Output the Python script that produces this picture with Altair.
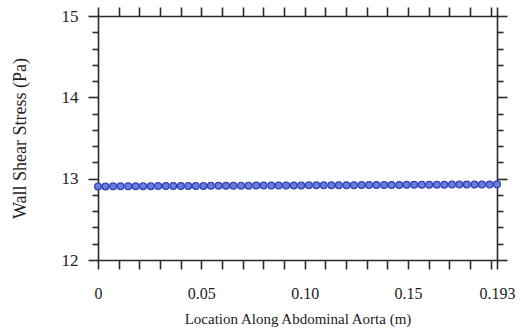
import altair as alt
import pandas as pd

# ---- data ----
location_m = [
    0.0000, 0.0036, 0.0073, 0.0109, 0.0146, 0.0182, 0.0218, 0.0255, 0.0291,
    0.0328, 0.0364, 0.0401, 0.0437, 0.0473, 0.0510, 0.0546, 0.0583, 0.0619,
    0.0655, 0.0692, 0.0728, 0.0765, 0.0801, 0.0838, 0.0874, 0.0910, 0.0947,
    0.0983, 0.1020, 0.1056, 0.1092, 0.1129, 0.1165, 0.1202, 0.1238, 0.1275,
    0.1311, 0.1347, 0.1384, 0.1420, 0.1457, 0.1493, 0.1529, 0.1566, 0.1602,
    0.1639, 0.1675, 0.1712, 0.1748, 0.1784, 0.1821, 0.1857, 0.1894, 0.1930,
]
wall_shear_stress = [
    12.905, 12.905, 12.906, 12.906, 12.907, 12.907, 12.908, 12.908, 12.909,
    12.909, 12.910, 12.910, 12.911, 12.911, 12.911, 12.912, 12.912, 12.913,
    12.913, 12.914, 12.914, 12.915, 12.915, 12.915, 12.916, 12.916, 12.917,
    12.917, 12.918, 12.918, 12.918, 12.919, 12.919, 12.920, 12.920, 12.921,
    12.921, 12.922, 12.922, 12.923, 12.923, 12.924, 12.924, 12.925, 12.925,
    12.926, 12.926, 12.927, 12.927, 12.928, 12.928, 12.929, 12.929, 12.930,
]
x_tick_values = [0.00, 0.01, 0.02, 0.03, 0.04, 0.05, 0.06, 0.07, 0.08, 0.09,
                 0.10, 0.11, 0.12, 0.13, 0.14, 0.15, 0.16, 0.17, 0.18, 0.19, 0.193]
y_tick_values = [12.0, 12.2, 12.4, 12.6, 12.8, 13.0, 13.2, 13.4, 13.6, 13.8,
                 14.0, 14.2, 14.4, 14.6, 14.8, 15.0]
x_title = "Location Along Abdominal Aorta (m)"
y_title = "Wall Shear Stress (Pa)"

df = pd.DataFrame({"x": location_m, "y": wall_shear_stress})

FONT = "Liberation Serif"
INK = "#2b2b2b"
xs = alt.Scale(domain=[0, 0.193], nice=False, zero=False)
ys = alt.Scale(domain=[12, 15], nice=False, zero=False)

common = dict(domainColor=INK, domainWidth=1.6, tickColor=INK, tickWidth=1.6,
              grid=False, labelFont=FONT, titleFont=FONT, labelColor="#222",
              titleColor="#222", titleFontWeight="normal", domainCap="square",
              labelFlush=False)

y_tick_size = {"condition": {"test": "abs(datum.value - round(datum.value)) < 0.001",
                             "value": 10}, "value": 6}

x_label_expr = ("indexof([0,50,100,150,193], round(datum.value*1000)) >= 0 ? "
                "(datum.value == 0 ? '0' : (datum.value > 0.191 ? '0.193' : format(datum.value, '.2f'))) : ''")

points = alt.Chart(df).mark_point(
    filled=True, size=46, fill="#6a7ddc", stroke="#2f42b8", strokeWidth=1.2, opacity=1
).encode(
    x=alt.X("x:Q", scale=xs, axis=alt.Axis(
        orient="bottom", values=x_tick_values, tickSize=9, labelExpr=x_label_expr,
        labelOverlap=False, labelFontSize=16, labelPadding=16, title=x_title,
        titleFontSize=15, titlePadding=10, **common)),
    y=alt.Y("y:Q", scale=ys, axis=alt.Axis(
        orient="left", values=y_tick_values, tickSize=y_tick_size,
        labelExpr="abs(datum.value - round(datum.value)) < 0.001 ? format(datum.value, 'd') : ''",
        labelOverlap=False, labelFontSize=17, labelPadding=10, title=y_title,
        titleFontSize=18, titlePadding=32, **common)),
)

frame = alt.Chart(df).mark_point(opacity=0).encode(
    x=alt.X("x:Q", scale=xs, axis=alt.Axis(
        orient="top", values=x_tick_values, tickSize=9, labels=False, title=None, **common)),
    y=alt.Y("y:Q", scale=ys, axis=alt.Axis(
        orient="right", values=y_tick_values, tickSize=y_tick_size, labels=False,
        title=None, **common)),
)

chart = alt.layer(frame, points).resolve_axis(x="independent", y="independent").properties(
    width=399, height=244,
    autosize=alt.AutoSizeParams(type="none"),
    padding={"left": 98, "top": 16, "right": 25, "bottom": 73},
    background="white",
).configure_view(stroke=None)

chart.save("out.html", embed_options={"renderer": "svg", "actions": False})
